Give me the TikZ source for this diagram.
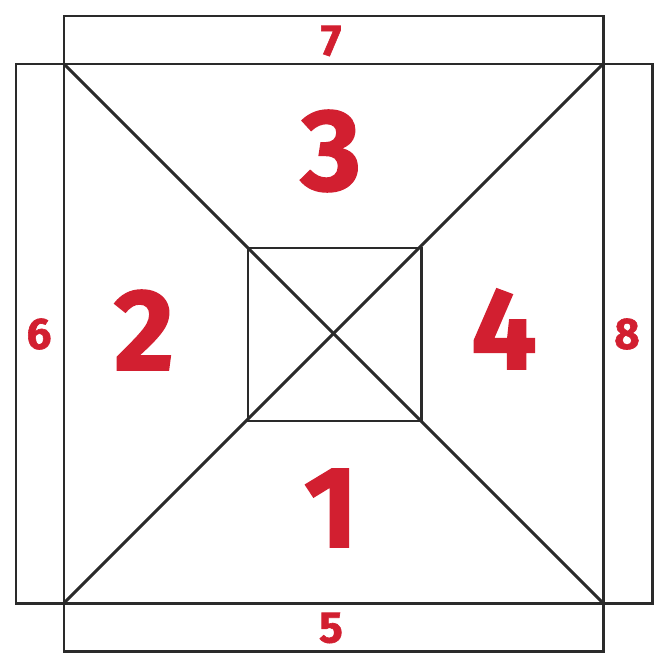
\documentclass[tikz,border=0pt]{standalone}
\usepackage{fontspec}
\setmainfont{Fira Sans}[BoldFeatures={FakeBold=1.3}]
\definecolor{numred}{HTML}{D21F30}
\definecolor{linegray}{HTML}{2A2A2A}
\begin{document}
\begin{tikzpicture}[x=0.01cm,y=-0.01cm,
  edge/.style={draw=linegray,line width=0.85pt,line join=miter},
  big/.style={text=numred,font=\fontsize{33}{33}\selectfont\bfseries,inner sep=0pt,anchor=center},
  small/.style={text=numred,font=\fontsize{12.5}{13}\selectfont\bfseries,inner sep=0pt,anchor=center}]
\useasboundingbox (0,0) rectangle (670,670);
\coordinate (TL) at (64,64);
\coordinate (TR) at (603,64);
\coordinate (BR) at (603,603);
\coordinate (BL) at (64,603);
\coordinate (iTL) at (248,248);
\coordinate (iBR) at (421,421);
% strips
\draw[edge] (64,16) rectangle (603,64);
\draw[edge] (64,603) rectangle (603,651);
\draw[edge] (16,64) rectangle (64,603);
\draw[edge] (603,64) rectangle (652,603);
% main square
\draw[edge] (TL) rectangle (BR);
\draw[edge] (iTL) rectangle (iBR);
\draw[edge] (TL) -- (BR);
\draw[edge] (TR) -- (BL);
% numbers
\node[big] (n3) at (331,151) {3};
\node[big] (n2) at (144,330) {2};
\node[big] (n4) at (504,329) {4};
\node[big] (n1) at (331,508) {1};
\node[small] (n7) at (331,41) {7};
\node[small] (n5) at (331,628) {5};
\node[small] (n6) at (39,334) {6};
\node[small] (n8) at (627,334) {8};
\end{tikzpicture}
\end{document}
